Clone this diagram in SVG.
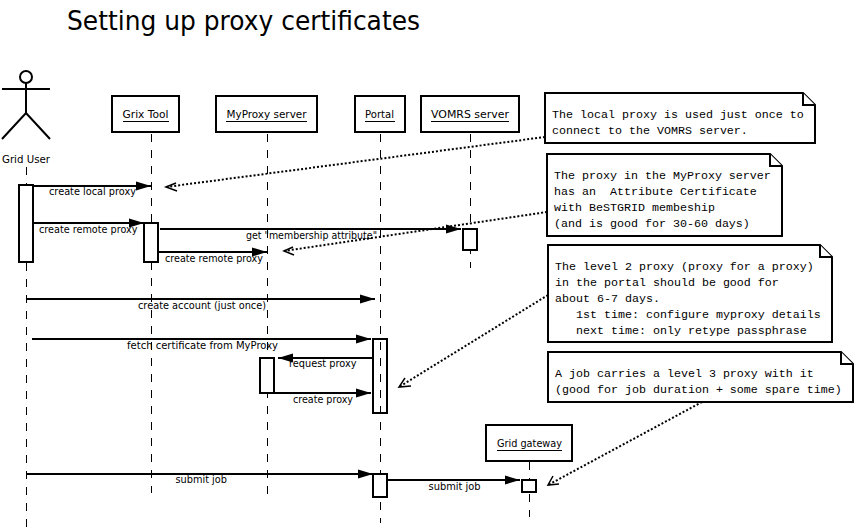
<svg xmlns="http://www.w3.org/2000/svg" width="854" height="530" viewBox="0 0 854 530">
<style>
.b{fill:#fff;stroke:#000;stroke-width:2}
.t{font-family:"DejaVu Sans",sans-serif;font-size:10.5px;fill:#000}
.n{font-family:"Liberation Mono",monospace;font-size:11.67px;fill:#000;white-space:pre}
.ll{stroke:#000;stroke-width:1;stroke-dasharray:8 8;fill:none}
.msg{stroke:#000;stroke-width:2;fill:none;marker-end:url(#solid)}
.dot{stroke:#000;stroke-width:2;stroke-dasharray:2 2;fill:none}
.open{stroke:#000;stroke-width:1.5;fill:none}
.u{stroke:#000;stroke-width:1}
</style>
<defs>
<marker id="solid" markerUnits="userSpaceOnUse" markerWidth="16" markerHeight="12" refX="15" refY="6" orient="auto"><path d="M0 1.500 L15 6 L0 10.500 Z" fill="#000"/></marker>
</defs>
<rect width="854" height="530" fill="#fff"/>
<text x="67" y="30" style="font-family:'DejaVu Sans',sans-serif;font-size:26px" textLength="353" lengthAdjust="spacingAndGlyphs">Setting up proxy certificates</text>

<g id="grid-user">
<path class="ll" d="M26.500 167V527"/>
<circle cx="26" cy="77" r="6" fill="#fff" stroke="#000" stroke-width="2"/>
<path d="M2 89H50M26 83V113M2 139L26 113L50 139" fill="none" stroke="#000" stroke-width="2"/>
<text class="t" x="2" y="163" textLength="48" lengthAdjust="spacingAndGlyphs">Grid User</text>
<rect class="b" x="19" y="185" width="14" height="77"/>
</g>
<g id="grix-tool">
<path class="ll" d="M151.500 134V493"/>
<rect class="b" x="112" y="96" width="67" height="36"/>
<text class="t" x="122.500" y="118" textLength="46" lengthAdjust="spacingAndGlyphs">Grix Tool</text><path class="u" d="M123 121.500H169"/>
<rect class="b" x="144" y="223" width="14" height="39"/>
</g>
<g id="myproxy-server">
<path class="ll" d="M267.500 134V502"/>
<rect class="b" x="216" y="96" width="101" height="36"/>
<text class="t" x="226.500" y="118" textLength="80" lengthAdjust="spacingAndGlyphs">MyProxy server</text><path class="u" d="M226 121.500H307"/>
<rect class="b" x="260" y="358" width="14" height="35"/>
</g>
<g id="portal">
<rect class="b" x="373" y="339" width="14" height="74"/>
<path class="ll" d="M380.500 134V523"/>
<rect class="b" x="373" y="474" width="14" height="23"/>
<rect class="b" x="355" y="96" width="50" height="36"/>
<text class="t" x="365" y="118" textLength="29" lengthAdjust="spacingAndGlyphs">Portal</text><path class="u" d="M365 121.500H395"/>
</g>
<g id="vomrs-server">
<path class="ll" d="M470.500 134V268"/>
<rect class="b" x="421" y="96" width="98" height="36"/>
<text class="t" x="431" y="118" textLength="78" lengthAdjust="spacingAndGlyphs">VOMRS server</text><path class="u" d="M431 121.500H509"/>
<rect class="b" x="463" y="229" width="14" height="21"/>
</g>
<g id="grid-gateway">
<path class="ll" d="M529.500 462V517"/>
<rect class="b" x="486" y="425" width="86" height="36"/>
<text class="t" x="497" y="447" textLength="65" lengthAdjust="spacingAndGlyphs">Grid gateway</text><path class="u" d="M497 450.500H562"/>
<rect class="b" x="522" y="480" width="14" height="12"/>
</g>

<g id="connectors">
<path class="msg" d="M33 186H151"/>
<path class="msg" d="M33 223H144"/>
<path class="msg" d="M160 229H461"/>
<path class="msg" d="M158 252H267"/>
<path class="msg" d="M26 299H375"/>
<path class="msg" d="M32 339H371"/>
<path class="msg" d="M373 358H278"/>
<path class="msg" d="M274 393H371"/>
<path class="msg" d="M26 474H373"/>
<path class="msg" d="M387 480H520"/>
<path class="dot" d="M545 137L166 187"/>
<path class="dot" d="M547 212L284 251"/>
<path class="dot" d="M548 295L399 387"/>
<path class="dot" d="M702 402L548 485"/>
<path class="open" d="M176 183L166 187L177 191M293 247L284 251L294 255M405 378L399 387L411 386M553 476L548 485L559 484"/>
<text class="t" x="49" y="195" textLength="87" lengthAdjust="spacingAndGlyphs">create local proxy</text>
<text class="t" x="39" y="233" textLength="98.500" lengthAdjust="spacingAndGlyphs">create remote proxy</text>
<text class="t" x="246" y="239" textLength="131" lengthAdjust="spacingAndGlyphs">get "membership attribute"</text>
<text class="t" x="165" y="262" textLength="98" lengthAdjust="spacingAndGlyphs">create remote proxy</text>
<text class="t" x="138" y="309" textLength="128" lengthAdjust="spacingAndGlyphs">create account (just once)</text>
<text class="t" x="127" y="349" textLength="151" lengthAdjust="spacingAndGlyphs">fetch certificate from MyProxy</text>
<text class="t" x="289" y="367" textLength="67.500" lengthAdjust="spacingAndGlyphs">request proxy</text>
<text class="t" x="293" y="403" textLength="60" lengthAdjust="spacingAndGlyphs">create proxy</text>
<text class="t" x="175.500" y="483" textLength="51.500" lengthAdjust="spacingAndGlyphs">submit job</text>
<text class="t" x="428.500" y="490" textLength="52" lengthAdjust="spacingAndGlyphs">submit job</text>
</g>

<g id="note-1">
<path class="b" d="M545 93H803L815 105V143H545Z"/><path class="b" d="M803 93V105H815"/>
<text class="n" x="552" y="118">The local proxy is used just once to</text>
<text class="n" x="552" y="134">connect to the VOMRS server.</text>
</g>
<g id="note-2">
<path class="b" d="M547 154H770L782 166V236H547Z"/><path class="b" d="M770 154V166H782"/>
<text class="n" x="554" y="179">The proxy in the MyProxy server</text>
<text class="n" x="554" y="195" xml:space="preserve">has an  Attribute Certificate</text>
<text class="n" x="554" y="211">with BeSTGRID membeship</text>
<text class="n" x="554" y="227">(and is good for 30-60 days)</text>
</g>
<g id="note-3">
<path class="b" d="M548 245H820L832 257V342H548Z"/><path class="b" d="M820 245V257H832"/>
<text class="n" x="555" y="270">The level 2 proxy (proxy for a proxy)</text>
<text class="n" x="555" y="286">in the portal should be good for</text>
<text class="n" x="555" y="302">about 6-7 days.</text>
<text class="n" x="576" y="318">1st time: configure myproxy details</text>
<text class="n" x="576" y="334">next time: only retype passphrase</text>
</g>
<g id="note-4">
<path class="b" d="M548 352H841L853 364V402H548Z"/><path class="b" d="M841 352V364H853"/>
<text class="n" x="555" y="377">A job carries a level 3 proxy with it</text>
<text class="n" x="555" y="393">(good for job duration + some spare time)</text>
</g>
</svg>
